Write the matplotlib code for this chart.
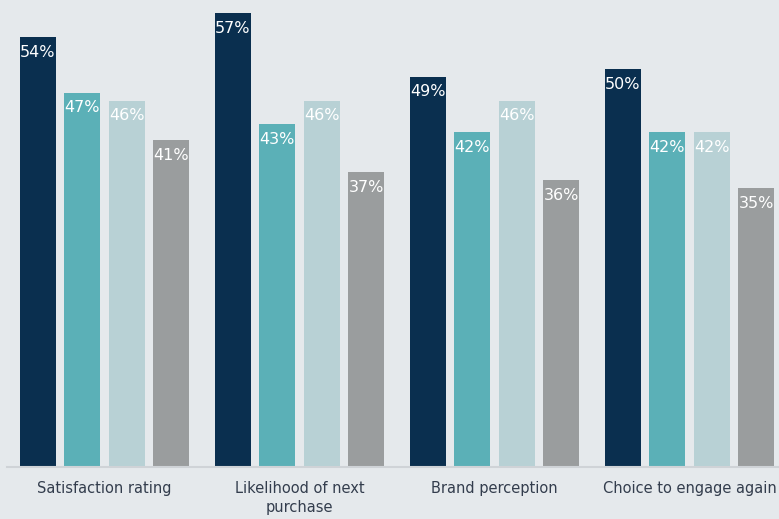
import numpy as np
from matplotlib import pyplot as plt

# Grouped bar chart: four metrics, four series each
categories = ["Satisfaction rating", "Likelihood of next\npurchase",
              "Brand perception", "Choice to engage again"]
series_a = [54, 57, 49, 50]
series_b = [47, 43, 42, 42]
series_c = [46, 46, 46, 42]
series_d = [41, 37, 36, 35]

colors = ["#0a2f4f", "#5bb0b7", "#b8d1d5", "#9a9d9e"]
bg = "#e5e9ec"

fig = plt.figure(figsize=(7.79, 5.19), dpi=100, facecolor=bg)
ax = fig.add_axes([7 / 779, 52 / 519, 772 / 779, 467 / 519])
ax.set_facecolor(bg)

x = np.arange(len(categories))
step = 0.2277
width = 0.185
for i, vals in enumerate([series_a, series_b, series_c, series_d]):
    pos = x + (i - 1.5) * step
    bars = ax.bar(pos, vals, width, color=colors[i], zorder=2)
    for b, v in zip(bars, vals):
        ax.annotate(f"{v}%", (b.get_x() + b.get_width() / 2, v),
                    xytext=(0, -11), textcoords="offset points",
                    ha="center", va="center", color="white", fontsize=11.5)

ax.set_xlim(-0.5, 3.459)
ax.set_ylim(0, 58.63)
ax.set_yticks([])
ax.set_xticks(x)
ax.set_xticklabels(categories, fontsize=10.5, color="#333d4d", linespacing=1.35)
ax.tick_params(axis="x", length=0, pad=10)
for s in ["top", "right", "left"]:
    ax.spines[s].set_visible(False)
ax.spines["bottom"].set_color("#cfd3d7")
ax.spines["bottom"].set_linewidth(1.5)

plt.savefig("out.png", dpi=100, facecolor=bg)
